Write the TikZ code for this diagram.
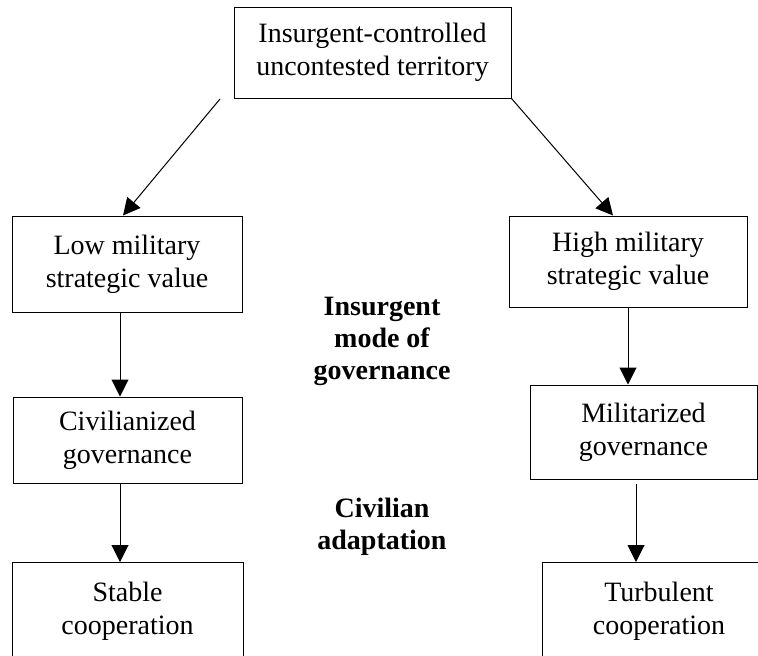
\documentclass[tikz,border=0pt]{standalone}
\usepackage{fontspec}
\setmainfont{Liberation Serif}
\usetikzlibrary{arrows.meta}

\begin{document}
\begin{tikzpicture}[x=1pt,y=-1pt,
    box/.style={draw, line width=1pt, align=center, inner sep=0pt, font=\fontsize{28}{33}\selectfont},
    stage/.style={align=center, inner sep=0pt, font=\fontsize{28}{32}\selectfont\bfseries},
    link/.style={line width=1pt, -{Triangle[length=17pt,width=17pt]}}]
    \useasboundingbox (0,0) rectangle (758,656);
    \clip (0,0) rectangle (758,656);
    \node[box, minimum width=277pt, minimum height=91pt] (terr) at (372.5,52.5) {Insurgent-controlled\\uncontested territory};
    \node[box, minimum width=230pt, minimum height=96pt] (low) at (127,264) {Low military\\strategic value};
    \node[box, minimum width=238pt, minimum height=91pt] (high) at (628,261.5) {High military\\strategic value};
    \node[box, minimum width=229pt, minimum height=86pt] (civ) at (127.5,440) {Civilianized\\governance};
    \node[box, minimum width=227pt, minimum height=94pt] (mil) at (643.5,432) {Militarized\\governance};
    \node[box, anchor=north, minimum width=231pt, inner ysep=20pt, text depth=90pt] (stable) at (127.5,562) {Stable\\cooperation};
    \node[box, anchor=north, minimum width=234pt, inner ysep=20pt, text depth=90pt] (turb) at (659,562) {Turbulent\\cooperation};
    \node[stage] (mode) at (382,341) {Insurgent\\mode of\\governance};
    \node[stage] (adapt) at (382,527) {Civilian\\adaptation};
    % arrows
    \coordinate (tl) at (220,99);
    \draw[link] (tl) -- ([xshift=-4pt]low.north);
    \draw[link] (terr.south east) -- ([xshift=-15pt]high.north);
    \draw[link] ([xshift=-7pt]low.south) -- ([xshift=-7pt]low.south |- civ.north);
    \draw[link] ([xshift=-7.5pt]civ.south) -- ([xshift=-7.5pt]civ.south |- stable.north);
    \draw[link] (high.south) -- (high.south |- mil.north);
    \draw[link] ([xshift=-7.5pt,yshift=-4pt]mil.south) -- ([xshift=-7.5pt]mil.south |- turb.north);
\end{tikzpicture}
\end{document}
